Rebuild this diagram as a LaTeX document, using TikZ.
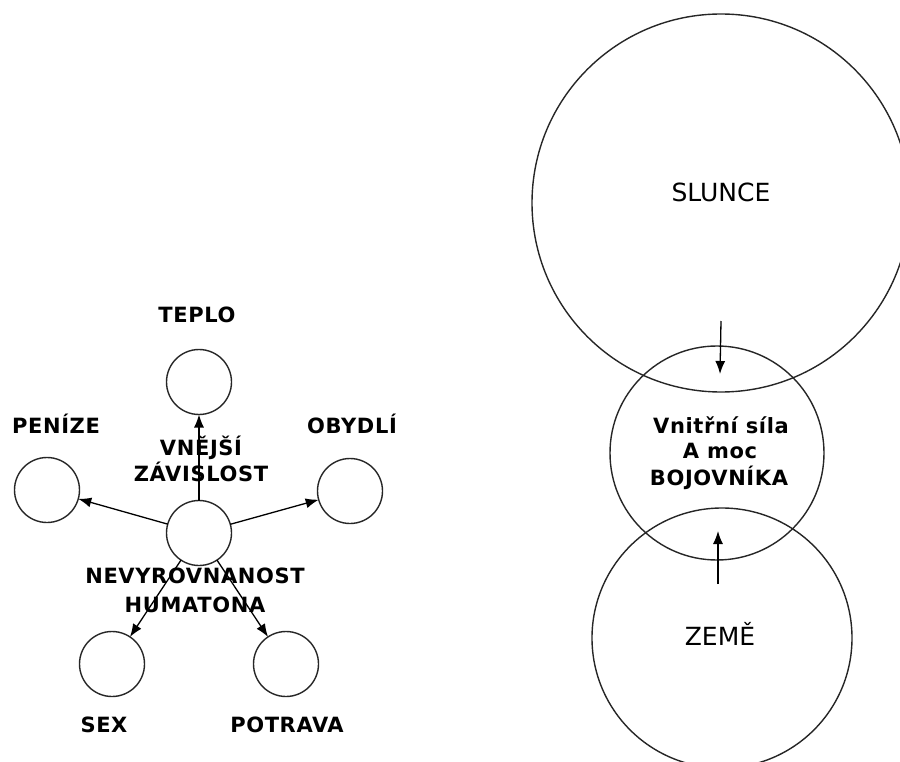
\documentclass[tikz,border=0pt]{standalone}
\usepackage{fontspec}
\setmainfont{DejaVu Sans}
\newfontfamily\pixfont[LetterSpace=3]{DejaVu Sans}
\usetikzlibrary{arrows.meta}
\begin{document}
\begin{tikzpicture}[x=1pt,y=-1pt,
  circ/.style={draw=black!85, circle, line width=1.4pt, inner sep=0pt, outer sep=0pt},
  lbl/.style={font=\pixfont\bfseries\fontsize{21}{25}\selectfont, anchor=base, inner sep=0pt},
  big/.style={font=\fontsize{25}{30}\selectfont, anchor=base, inner sep=0pt},
  arr/.style={-{Latex[length=13pt,width=10pt]}, line width=1.3pt}]
\useasboundingbox (0,0) rectangle (900,762);
\clip (0,0) rectangle (900,762);
% left diagram
\node[circ, minimum size=65pt] (cT) at (199,382) {};
\node[circ, minimum size=65pt] (cP) at (47,490) {};
\node[circ, minimum size=65pt] (cO) at (350,491) {};
\node[circ, minimum size=65pt] (cC) at (199,533) {};
\node[circ, minimum size=65pt] (cS) at (112,664) {};
\node[circ, minimum size=65pt] (cF) at (286,664) {};
\draw[arr] (cC) -- (cT);
\draw[arr] (cC) -- (cP);
\draw[arr] (cC) -- (cO);
\draw[arr] (cC) -- (cS);
\draw[arr] (cC) -- (cF);
\node[lbl] (tT) at (197,323) {TEPLO};
\node[lbl] (tP) at (56,433) {PENÍZE};
\node[lbl] (tO) at (352,433) {OBYDLÍ};
\node[lbl] (tV1) at (201,455) {VNĚJŠÍ};
\node[lbl] (tV2) at (201,481) {ZÁVISLOST};
\node[lbl] (tN1) at (195,583) {NEVYROVNANOST};
\node[lbl] (tN2) at (195,612) {HUMATONA};
\node[lbl] (tS) at (104,732) {SEX};
\node[lbl] (tF) at (287,732) {POTRAVA};
% right diagram
\node[circ, minimum size=378pt] (sun) at (721,203) {};
\node[circ, minimum size=214pt] (mid) at (717,453) {};
\node[circ, minimum size=260pt] (earth) at (722,638) {};
\node[big] (tSun) at (721,202) {SLUNCE};
\node[big] (tEarth) at (720,645) {ZEMĚ};
\node[lbl] (tM1) at (721,433) {Vnitřní síla};
\node[lbl] (tM2) at (720,458) {A moc};
\node[lbl] (tM3) at (719,485) {BOJOVNÍKA};
\coordinate (sunTail) at (721,321);
\coordinate (sunTip) at (720,374);
\coordinate (earthTail) at (718,584);
\coordinate (earthTip) at (718,531);
\draw[arr] (sunTail) -- (sunTip);
\draw[arr] (earthTail) -- (earthTip);
\end{tikzpicture}
\end{document}
